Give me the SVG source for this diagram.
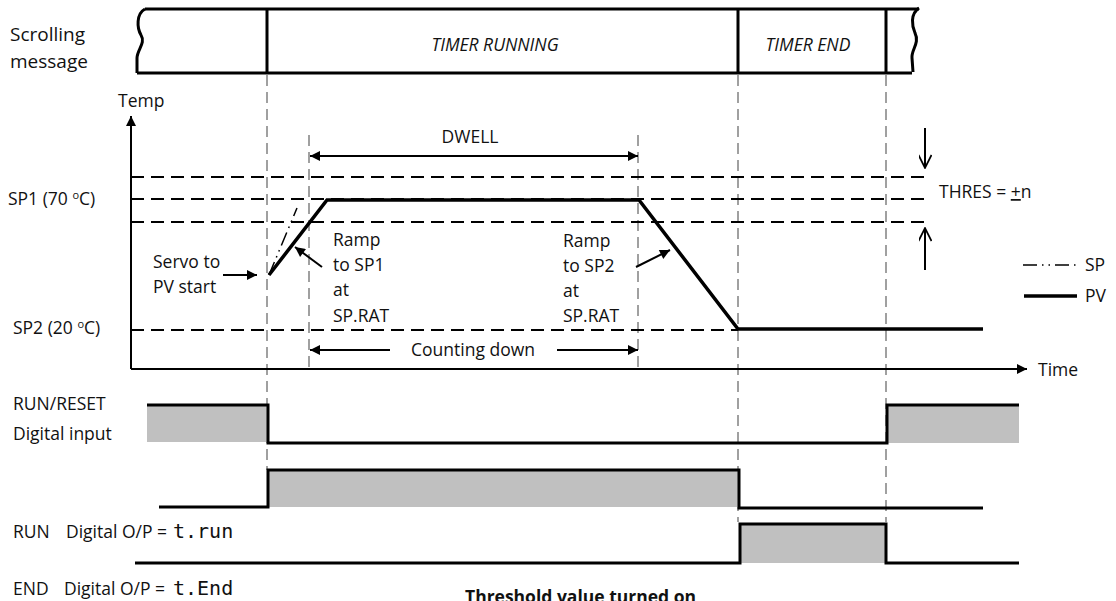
<svg xmlns="http://www.w3.org/2000/svg" width="1116" height="601" viewBox="0 0 1116 601">
<style>
text{font-family:"Open Sans","Noto Sans","DejaVu Sans",sans-serif;font-size:17.5px;fill:#111}
.big{font-size:19px}
.it{font-style:italic}
.box{fill:none;stroke:#000;stroke-width:3}
.vg{stroke:#a0a0a0;stroke-width:2;stroke-dasharray:11 6;fill:none}
.hd{stroke:#000;stroke-width:2;stroke-dasharray:13 7;fill:none}
.ax{stroke:#000;stroke-width:2;fill:none}
.pv{stroke:#000;stroke-width:3.5;fill:none;stroke-linejoin:miter}
.sp{stroke:#000;stroke-width:1.5;fill:none;stroke-dasharray:14 5 1.5 5 1.5 5}
.sig{stroke:#000;stroke-width:3;fill:none}
.fill{fill:#c0c0c0;stroke:none}
.seg{font-family:"DejaVu Sans Mono","Liberation Mono",monospace;font-size:20px}
</style>
<defs>
<marker id="ah" viewBox="0 0 10 10" refX="10" refY="5" markerWidth="14" markerHeight="10" markerUnits="userSpaceOnUse" orient="auto-start-reverse"><path d="M0,0 L10,5 L0,10 z" fill="#000"/></marker>
<marker id="av" viewBox="0 0 10 10" refX="10" refY="5" markerWidth="15" markerHeight="13" markerUnits="userSpaceOnUse" orient="auto"><path d="M0,0 L10,5 L0,10" fill="none" stroke="#000" stroke-width="1.3"/></marker>
</defs>

<g id="scrolling-message">
<text class="big" x="10" y="41">Scrolling</text>
<text class="big" x="10" y="68">message</text>
<path class="box" d="M145,9 L919,9 M137,73 L912,73"/>
<path class="box" d="M145,9 C136,14 137,28 141,35 C146,43 137,50 137,58 L137,73"/>
<path class="box" d="M919,8 C910,14 912,26 915,33 C920,43 911,50 912,58 L913,72"/>
<path class="box" d="M267,9 L267,73 M738,9 L738,73 M886,9 L886,73"/>
<text class="it" x="495" y="51" text-anchor="middle">TIMER RUNNING</text>
<text class="it" x="808" y="51" text-anchor="middle">TIMER END</text>
</g>

<g id="guides">
<line class="vg" x1="267" y1="75" x2="267" y2="470"/>
<line class="vg" x1="309" y1="135" x2="309" y2="369"/>
<line class="vg" x1="638" y1="135" x2="638" y2="369"/>
<line class="vg" x1="738" y1="75" x2="738" y2="522"/>
<line class="vg" x1="886" y1="75" x2="886" y2="522"/>
</g>

<g id="axes">
<line class="ax" x1="131" y1="369" x2="131" y2="116" marker-end="url(#ah)"/>
<line class="ax" x1="131" y1="369" x2="1027" y2="369" marker-end="url(#ah)"/>
<text x="118" y="107">Temp</text>
<text x="1038" y="376">Time</text>
<text x="8" y="205">SP1 (70 <tspan font-size="11" dy="-6">o</tspan><tspan dy="6">C)</tspan></text>
<text x="13" y="334">SP2 (20 <tspan font-size="11" dy="-6">o</tspan><tspan dy="6">C)</tspan></text>
</g>

<g id="levels">
<line class="hd" x1="131" y1="177" x2="928" y2="177"/>
<line class="hd" x1="131" y1="199" x2="928" y2="199"/>
<line class="hd" x1="131" y1="222" x2="928" y2="222"/>
<line class="hd" x1="131" y1="330" x2="738" y2="330"/>
</g>

<g id="curves">
<path class="sp" d="M269,275 L297,208"/>
<path class="pv" d="M269,275 L327,200 L639,200 L738,329 L983,329"/>
</g>

<g id="connectors">
<line class="ax" x1="310" y1="156" x2="638" y2="156" marker-start="url(#ah)" marker-end="url(#ah)"/>
<line class="ax" x1="390" y1="350" x2="310" y2="350" marker-end="url(#ah)"/>
<line class="ax" x1="557" y1="350" x2="638" y2="350" marker-end="url(#ah)"/>
<line class="ax" x1="223" y1="275" x2="257" y2="275" marker-end="url(#ah)"/>
<line class="ax" x1="322" y1="267" x2="295" y2="247" marker-end="url(#ah)"/>
<line class="ax" x1="636" y1="267" x2="670" y2="250" marker-end="url(#ah)"/>
<line class="ax" x1="925" y1="128" x2="925" y2="168" marker-end="url(#av)"/>
<line class="ax" x1="925" y1="270" x2="925" y2="228" marker-end="url(#av)"/>
</g>

<g id="labels">
<text x="470" y="143" text-anchor="middle">DWELL</text>
<text x="473" y="356" text-anchor="middle">Counting down</text>
<text x="153" y="268">Servo to</text>
<text x="153" y="293">PV start</text>
<text x="333" y="246">Ramp</text>
<text x="333" y="271">to SP1</text>
<text x="333" y="296">at</text>
<text x="333" y="322">SP.RAT</text>
<text x="563" y="247">Ramp</text>
<text x="563" y="272">to SP2</text>
<text x="563" y="297">at</text>
<text x="563" y="322">SP.RAT</text>
<text x="939" y="198">THRES = <tspan text-decoration="underline">+</tspan>n</text>
</g>

<g id="legend">
<line class="sp" x1="1023" y1="265" x2="1077" y2="265"/>
<text x="1085" y="271">SP</text>
<line class="pv" x1="1024" y1="296" x2="1077" y2="296"/>
<text x="1085" y="302">PV</text>
</g>

<g id="run-reset">
<text x="13" y="410">RUN/RESET</text>
<text x="13" y="440">Digital input</text>
<rect class="fill" x="147" y="405" width="121" height="37"/>
<rect class="fill" x="887" y="405" width="132" height="38"/>
<path class="sig" d="M147,405 L268,405 L268,443 L887,443 L887,405 L1019,405"/>
</g>

<g id="timer-running">
<rect class="fill" x="268" y="470" width="471" height="37"/>
<path class="sig" d="M159,507 L268,507 L268,470 L739,470 L739,508 L983,508"/>
<text x="13" y="538">RUN<tspan x="66">Digital O/P = </tspan><tspan class="seg" x="173">t.run</tspan></text>
</g>

<g id="timer-end">
<rect class="fill" x="740" y="524" width="146" height="39"/>
<path class="sig" d="M135,563 L740,563 L740,524 L886,524 L886,563 L1019,563"/>
<text x="13" y="595">END<tspan x="64">Digital O/P = </tspan><tspan class="seg" x="173">t.End</tspan></text>
</g>

<g id="footer">
<text x="465" y="603" font-weight="bold" font-size="18">Threshold value turned on</text>
</g>
</svg>
